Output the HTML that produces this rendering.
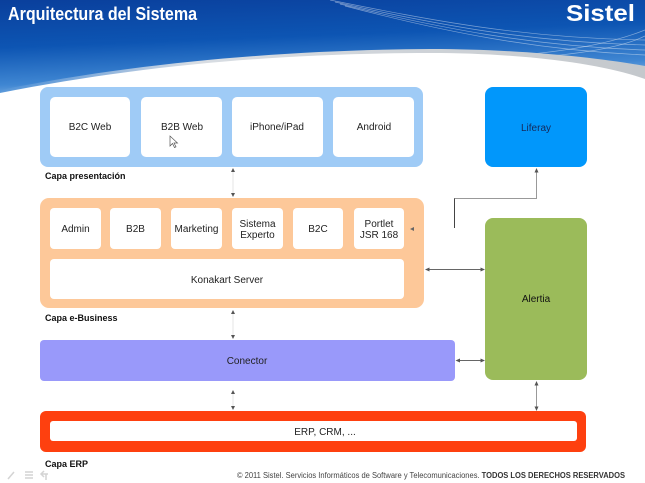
<!DOCTYPE html>
<html><head><meta charset="utf-8"><style>
html,body{margin:0;padding:0;background:#fff;}
svg{display:block;}
text{font-family:"Liberation Sans",Arial,sans-serif;}
</style></head><body>
<svg width="645" height="483" viewBox="0 0 645 483" xmlns="http://www.w3.org/2000/svg">
<defs>
<linearGradient id="hdr" x1="0" y1="0" x2="0.25" y2="1">
<stop offset="0" stop-color="#0a3f9c"/>
<stop offset="0.45" stop-color="#0d55b3"/>
<stop offset="0.8" stop-color="#3f86d2"/>
<stop offset="1" stop-color="#8fbde8"/>
</linearGradient>
<linearGradient id="gb" x1="0" y1="0" x2="1" y2="0">
<stop offset="0" stop-color="#e6ecf3" stop-opacity="0"/>
<stop offset="0.3" stop-color="#d8dde3"/>
<stop offset="1" stop-color="#c4c8cc"/>
</linearGradient>
</defs>
<rect x="0" y="0" width="645" height="100" fill="url(#hdr)"/>
<!-- decorative lines -->
<g fill="none" stroke="#ffffff" stroke-opacity="0.45" stroke-width="0.7">
<path d="M330,0 C430,20 520,38 645,40"/>
<path d="M335,2 C435,24 525,42 645,45"/>
<path d="M340,4 C440,28 530,46 645,50"/>
<path d="M345,6 C445,32 535,50 645,55"/>
<path d="M520,55 C580,50 620,40 645,30"/>
<path d="M525,58 C585,54 625,46 645,36"/>
</g>
<!-- grey band -->
<path d="M0,90 C150,60 300,50 430,49 C520,49 600,58 645,66 L645,80 C600,64 520,54 430,54 C300,54 150,64 0,94 Z" fill="url(#gb)"/>
<!-- white body -->
<path d="M0,93 C150,63 300,53 430,53 C520,53 600,63 645,79 L645,483 L0,483 Z" fill="#ffffff"/>

<text x="8" y="20" font-size="18" font-weight="bold" fill="#ffffff" textLength="189" lengthAdjust="spacingAndGlyphs">Arquitectura del Sistema</text>
<text x="566" y="21" font-size="23" font-weight="bold" fill="#ffffff" textLength="69" lengthAdjust="spacingAndGlyphs">Sistel</text>

<!-- Presentation layer -->
<rect x="40" y="87" width="383" height="80" rx="8" fill="#9fcbf6"/>
<rect x="50" y="97" width="80" height="60" rx="5" fill="#fff"/>
<rect x="141" y="97" width="81" height="60" rx="5" fill="#fff"/>
<rect x="232" y="97" width="91" height="60" rx="5" fill="#fff"/>
<rect x="333" y="97" width="81" height="60" rx="5" fill="#fff"/>
<g font-size="10" fill="#222" text-anchor="middle">
<text x="90" y="130">B2C Web</text>
<text x="182" y="130">B2B Web</text>
<text x="277" y="130">iPhone/iPad</text>
<text x="374" y="130">Android</text>
</g>
<!-- cursor -->
<path d="M170,136 L170,146 L172.5,143.5 L174.5,147.5 L176,146.8 L174,143 L177.5,143 Z" fill="#fff" stroke="#555" stroke-width="0.7"/>
<text x="45" y="179" font-size="9" font-weight="bold" fill="#111">Capa presentación</text>

<!-- vertical connector 1 -->
<line x1="233" y1="171" x2="233" y2="195" stroke="#e4e4e4" stroke-width="1"/>
<path d="M233,168 L235,172 L231,172 Z" fill="#555"/>
<path d="M233,197 L235,193 L231,193 Z" fill="#555"/>

<!-- e-Business layer -->
<rect x="40" y="198" width="384" height="110" rx="9" fill="#fdc899"/>
<rect x="50" y="208" width="51" height="41" rx="4" fill="#fff"/>
<rect x="110" y="208" width="51" height="41" rx="4" fill="#fff"/>
<rect x="171" y="208" width="51" height="41" rx="4" fill="#fff"/>
<rect x="232" y="208" width="51" height="41" rx="4" fill="#fff"/>
<rect x="293" y="208" width="50" height="41" rx="4" fill="#fff"/>
<rect x="354" y="208" width="50" height="41" rx="4" fill="#fff"/>
<rect x="50" y="259" width="354" height="40" rx="4" fill="#fff"/>
<g font-size="10" fill="#222" text-anchor="middle">
<text x="75.5" y="232">Admin</text>
<text x="135.5" y="232">B2B</text>
<text x="196.5" y="232">Marketing</text>
<text x="257.5" y="227">Sistema</text>
<text x="257.5" y="238">Experto</text>
<text x="318" y="232">B2C</text>
<text x="379" y="227">Portlet</text>
<text x="379" y="238">JSR 168</text>
<text x="227" y="283">Konakart Server</text>
</g>
<path d="M410,229 L414,227 L414,231 Z" fill="#666"/>
<text x="45" y="321" font-size="9" font-weight="bold" fill="#111">Capa e-Business</text>

<!-- vertical connector 2 -->
<line x1="233" y1="313" x2="233" y2="336" stroke="#e4e4e4" stroke-width="1"/>
<path d="M233,310 L235,314 L231,314 Z" fill="#555"/>
<path d="M233,339 L235,335 L231,335 Z" fill="#555"/>

<!-- Conector -->
<rect x="40" y="340" width="415" height="41" rx="4" fill="#9999fa"/>
<text x="247" y="364" font-size="10" fill="#222" text-anchor="middle">Conector</text>

<!-- vertical connector 3 -->
<line x1="233" y1="393" x2="233" y2="408" stroke="#e4e4e4" stroke-width="1"/>
<path d="M233,390 L235,394 L231,394 Z" fill="#555"/>
<path d="M233,410 L235,406 L231,406 Z" fill="#555"/>

<!-- ERP -->
<rect x="40" y="411" width="546" height="41" rx="6" fill="#fe400f"/>
<rect x="50" y="421" width="527" height="20" rx="3" fill="#fff"/>
<text x="325" y="435" font-size="10" fill="#222" text-anchor="middle">ERP, CRM, ...</text>
<text x="45" y="467" font-size="9" font-weight="bold" fill="#111">Capa ERP</text>

<!-- Liferay -->
<rect x="485" y="87" width="102" height="80" rx="8" fill="#0197fb"/>
<text x="536" y="131" font-size="10" fill="#15295a" text-anchor="middle">Liferay</text>

<!-- Alertia -->
<rect x="485" y="218" width="102" height="162" rx="8" fill="#9bbb5a"/>
<text x="536" y="302" font-size="10" fill="#111" text-anchor="middle">Alertia</text>

<!-- Liferay connector -->
<line x1="454.5" y1="198" x2="454.5" y2="228" stroke="#444" stroke-width="1"/>
<polyline points="454.5,198.5 536.5,198.5 536.5,172" fill="none" stroke="#999" stroke-width="1"/>
<path d="M536.5,168 L538.5,172.5 L534.5,172.5 Z" fill="#555"/>

<!-- e-business <-> Alertia -->
<line x1="428" y1="269.5" x2="482" y2="269.5" stroke="#666" stroke-width="1"/>
<path d="M425,269.5 L429.5,267.5 L429.5,271.5 Z" fill="#555"/>
<path d="M485,269.5 L480.5,267.5 L480.5,271.5 Z" fill="#555"/>

<!-- Conector <-> Alertia -->
<line x1="458" y1="360.5" x2="482" y2="360.5" stroke="#666" stroke-width="1"/>
<path d="M455.5,360.5 L460,358.5 L460,362.5 Z" fill="#555"/>
<path d="M485,360.5 L480.5,358.5 L480.5,362.5 Z" fill="#555"/>

<!-- Alertia <-> ERP -->
<line x1="536.5" y1="384" x2="536.5" y2="408" stroke="#999" stroke-width="1"/>
<path d="M536.5,381 L538.5,385.5 L534.5,385.5 Z" fill="#555"/>
<path d="M536.5,411 L538.5,406.5 L534.5,406.5 Z" fill="#555"/>

<!-- footer -->
<text x="237" y="478" font-size="8" fill="#444" textLength="388" lengthAdjust="spacingAndGlyphs">© 2011 Sistel. Servicios Informáticos de Software y Telecomunicaciones. <tspan font-weight="bold" fill="#333">TODOS LOS DERECHOS RESERVADOS</tspan></text>

<!-- bottom-left faint icons -->
<g stroke="#d4d4d4" stroke-width="1.5" fill="none">
<path d="M8,479 L14,472"/>
<path d="M25,472 L33,472 M25,475 L33,475 M25,478 L33,478"/>
<path d="M41,474 L48,474 M44,471 L41,474 L44,477 M46,474 L46,480"/>
</g>
</svg>
</body></html>
